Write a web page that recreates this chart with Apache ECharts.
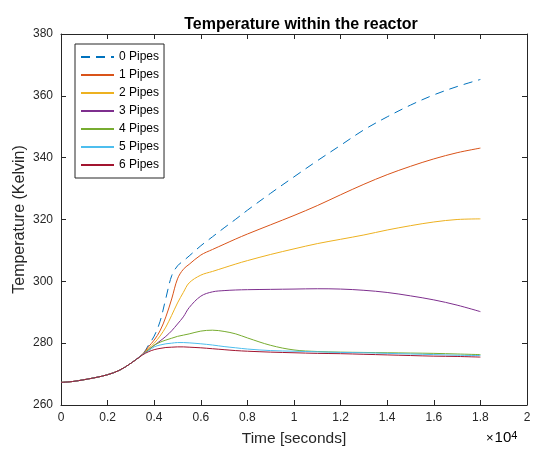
<!DOCTYPE html>
<html><head><meta charset="utf-8">
<script src="https://cdn.jsdelivr.net/npm/echarts@6/dist/echarts.min.js"></script>
<style>html,body{margin:0;padding:0;background:#fff}#c{width:535px;height:452px}</style>
</head><body><div id="c"></div>
<script>
const times = [0,500,1000,1500,2000,2500,3000,3500,3750,4000,4250,4500,4750,5000,5250,5500,6000,6500,7000,7500,8000,9000,10000,11000,12000,13000,14000,15000,16000,17000,18000];
const pipes0 = [267.3,267.6,268.2,268.9,269.8,271.2,273.5,276.4,279.3,282.3,287.0,294.5,301.8,305.0,306.6,308.2,311.5,314.4,317.3,320.1,323.0,328.5,333.8,339.0,344.0,349.0,353.2,357.0,360.3,363.0,365.3];
const pipes1 = [267.3,267.6,268.2,268.9,269.8,271.2,273.5,276.4,278.8,281.0,284.0,288.5,294.3,300.8,303.9,305.5,308.5,310.3,312.0,313.7,315.3,318.3,321.3,324.5,328.0,331.4,334.5,337.2,339.6,341.6,343.1];
const pipes2 = [267.3,267.6,268.2,268.9,269.8,271.2,273.5,276.4,278.2,280.0,282.3,285.2,289.0,293.0,296.4,299.5,302.0,303.2,304.4,305.6,306.7,308.7,310.5,312.2,313.6,315.0,316.6,318.0,319.2,320.0,320.2];
const pipes3 = [267.3,267.6,268.2,268.9,269.8,271.2,273.5,276.4,277.8,279.3,280.7,282.2,284.0,286.2,288.5,291.5,295.2,296.6,297.0,297.2,297.3,297.4,297.5,297.6,297.5,297.1,296.4,295.3,294.0,292.3,290.2];
const pipes4 = [267.3,267.6,268.2,268.9,269.8,271.2,273.5,276.3,277.8,279.3,280.3,281.0,281.6,282.2,282.6,283.0,283.9,284.2,283.8,283.0,281.7,279.3,277.8,277.3,277.1,277.0,276.9,276.8,276.7,276.5,276.3];
const pipes5 = [267.3,267.6,268.2,268.9,269.8,271.2,273.5,276.3,277.5,278.8,279.4,279.8,280.0,280.2,280.2,280.1,279.8,279.4,278.9,278.5,278.1,277.6,277.4,277.2,277.0,276.9,276.7,276.5,276.3,276.1,276.0];
const pipes6 = [267.3,267.6,268.2,268.9,269.8,271.2,273.5,276.2,277.2,277.9,278.3,278.6,278.7,278.8,278.8,278.7,278.5,278.2,277.9,277.6,277.4,277.1,276.9,276.7,276.6,276.4,276.2,276.0,275.8,275.7,275.5];
const seriesNames = ['0 Pipes','1 Pipes','2 Pipes','3 Pipes','4 Pipes','5 Pipes','6 Pipes'];
const seriesData = [pipes0,pipes1,pipes2,pipes3,pipes4,pipes5,pipes6];
const colors = ['#0072BD','#D95319','#EDB120','#7E2F8E','#77AC30','#4DBEEE','#A2142F'];
const xTickLabels = ['0','0.2','0.4','0.6','0.8','1','1.2','1.4','1.6','1.8','2'];

const FONT = 'Liberation Sans, Arial, sans-serif';
const AX = '#262626';
const chart = echarts.init(document.getElementById('c'), null, {renderer:'canvas'});
const axisCommon = {
  axisLine:{show:true,onZero:false,lineStyle:{color:AX,width:1}},
  axisTick:{show:true,inside:true,length:5,lineStyle:{color:AX}},
  splitLine:{show:false}
};
chart.setOption({
  animation:false,
  color:colors,
  title:{text:'Temperature within the reactor',left:296,textAlign:'center',top:12,
    textStyle:{fontFamily:FONT,fontSize:16,fontWeight:'bold',color:'#000'}},
  grid:{left:61,right:8,top:34,bottom:46,containLabel:false},
  legend:{orient:'vertical',left:75,top:44,
    backgroundColor:'#fff',borderColor:AX,borderWidth:1,
    padding:[6,5,6,5],itemGap:4,itemWidth:33,itemHeight:14,
    itemStyle:{opacity:0},
    textStyle:{fontFamily:FONT,fontSize:12,color:'#000',lineHeight:14},
    data:seriesNames},
  xAxis:[
    Object.assign({type:'value',min:0,max:20000,interval:2000,position:'bottom',
      name:'Time [seconds]',nameLocation:'middle',nameGap:26,nameMoveOverlap:false,
      nameTextStyle:{fontFamily:FONT,fontSize:15.5,color:AX},
      axisLabel:{margin:7,fontFamily:FONT,fontSize:12,color:AX,
        formatter:function(v){return xTickLabels[Math.round(v/2000)];}}},axisCommon),
    Object.assign({type:'value',min:0,max:20000,interval:2000,position:'top',
      axisLabel:{show:false}},axisCommon)
  ],
  yAxis:[
    Object.assign({type:'value',min:260,max:380,interval:20,position:'left',
      name:'Temperature (Kelvin)',nameLocation:'middle',nameGap:33,nameMoveOverlap:false,
      nameTextStyle:{fontFamily:FONT,fontSize:16,color:AX},
      axisLabel:{margin:8,fontFamily:FONT,fontSize:12,color:AX}},axisCommon),
    Object.assign({type:'value',min:260,max:380,interval:20,position:'right',
      axisLabel:{show:false}},axisCommon)
  ],
  graphic:[{type:'text',left:486,top:430,
    style:{text:'{a|×}{b|10}{c|4}',rich:{
      a:{fontFamily:FONT,fontSize:13,color:AX,verticalAlign:'bottom',padding:[0,1,0,0]},
      b:{fontFamily:FONT,fontSize:15,color:AX,verticalAlign:'bottom'},
      c:{fontFamily:FONT,fontSize:11,color:AX,verticalAlign:'top'}}}}],
  series:seriesNames.map(function(n,i){
    return {name:n,type:'line',xAxisIndex:0,yAxisIndex:0,
      data:times.map(function(t,k){return [t,seriesData[i][k]];}),
      symbol:'none',showSymbol:false,smooth:0.35,
      lineStyle:{width:1,color:colors[i],type:i===0?[9,6]:'solid'}};
  })
});
</script></body></html>
